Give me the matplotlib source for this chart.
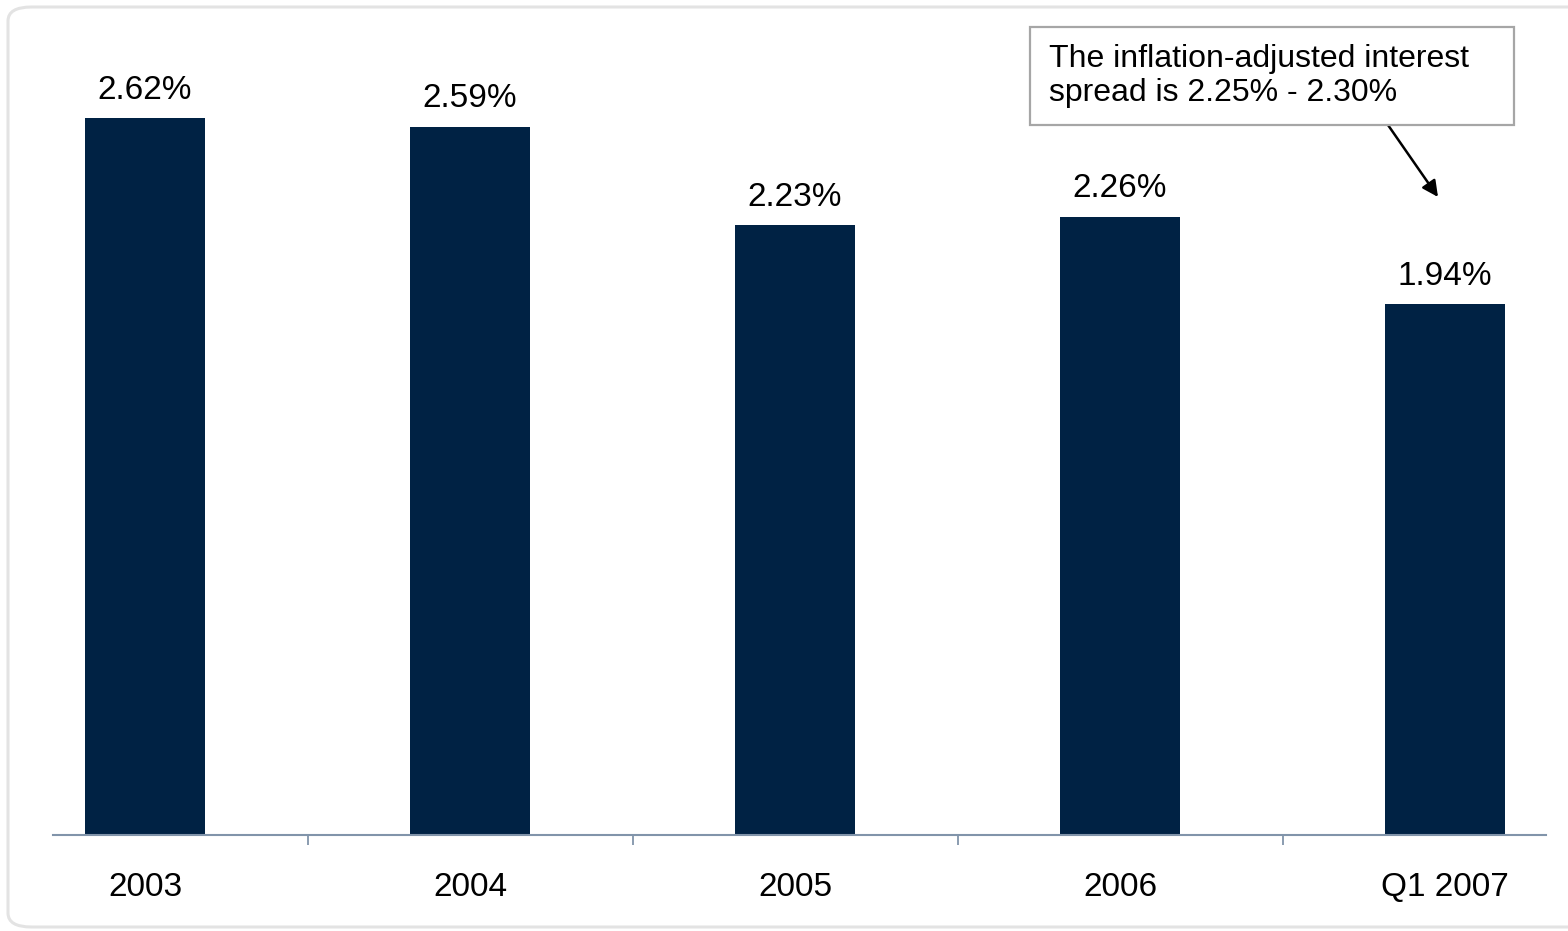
import matplotlib.pyplot as plt
from matplotlib.patches import FancyBboxPatch, Rectangle

# data
categories = ["2003", "2004", "2005", "2006", "Q1 2007"]
spread = [2.62, 2.59, 2.23, 2.26, 1.94]
value_labels = ["2.62%", "2.59%", "2.23%", "2.26%", "1.94%"]
note_text = "The inflation-adjusted interest\nspread is 2.25% - 2.30%"

plt.rcParams['font.family'] = ['Liberation Sans', 'DejaVu Sans']

W, H = 1568, 931
fig = plt.figure(figsize=(W / 100, H / 100), dpi=100)

# outer panel border
panel = FancyBboxPatch((8 / W, 4 / H), (W + 20) / W, (924 - 4) / H,
                       boxstyle="round,pad=0,rounding_size=0.015",
                       transform=fig.transFigure, facecolor='none',
                       edgecolor='#E3E3E3', linewidth=2.2, zorder=-1)
fig.patches.append(panel)

# axes placed in pixel terms
left, right, bottom = 53, 1546, 835
ymax = 3.0
px_per_unit = 273.5
top = bottom - ymax * px_per_unit
ax = fig.add_axes([left / W, (H - bottom) / H, (right - left) / W, (bottom - top) / H])
ax.patch.set_alpha(0)

x = list(range(len(categories)))
ax.bar(x, spread, width=0.372, color='#002244', zorder=2)

for xi, v, lab in zip(x, spread, value_labels):
    ax.annotate(lab, (xi, v), xytext=(0, 14), textcoords='offset points',
                ha='center', va='baseline', fontsize=24, color='black')

ax.set_xlim((left - 145) / 325, (right - 145) / 325)
ax.set_ylim(0, ymax)

axis_color = '#8194AA'
for s in ['top', 'right', 'left']:
    ax.spines[s].set_visible(False)
ax.spines['bottom'].set_color(axis_color)
ax.spines['bottom'].set_linewidth(1.5)

ax.set_yticks([])
ax.set_xticks(x)
ax.set_xticklabels(categories, fontsize=24)
ax.tick_params(axis='x', which='major', length=0, pad=27)
ax.set_xticks([i + 0.5 for i in x[:-1]], minor=True)
ax.tick_params(axis='x', which='minor', length=7.5, width=1.3, color=axis_color, direction='out')

# callout box
box = Rectangle((1030 / W, (H - 125) / H), (1514 - 1030) / W, (125 - 27) / H,
                transform=fig.transFigure, facecolor='white', edgecolor='#A6A6A6',
                linewidth=1.6, zorder=3)
fig.patches.append(box)
fig.text(1049 / W, (H - 76) / H, note_text, fontsize=23, ha='left', va='center',
         linespacing=1.15, zorder=4)

# arrow pointing to the last bar
ax.annotate("", xy=((1438 - 145) / 325, (bottom - 197) / px_per_unit),
            xytext=((1388 - 145) / 325, (bottom - 125) / px_per_unit),
            arrowprops=dict(arrowstyle='-|>', color='black', lw=1.8,
                            mutation_scale=24, shrinkA=0, shrinkB=0),
            annotation_clip=False)

fig.savefig("out.png", dpi=100)
